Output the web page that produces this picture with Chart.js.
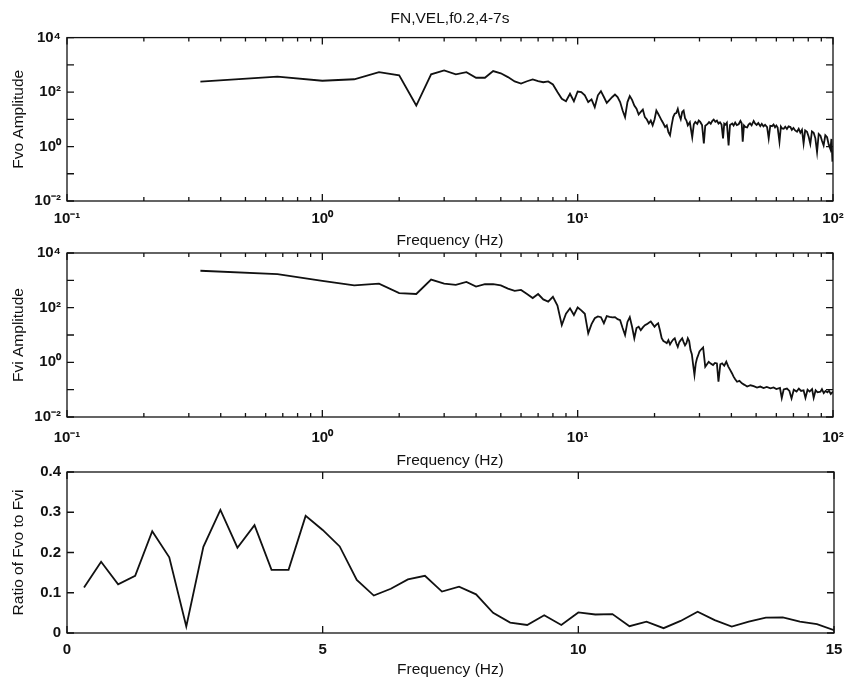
<!DOCTYPE html>
<html>
<head>
<meta charset="utf-8">
<script src="https://cdn.jsdelivr.net/npm/chart.js@4.4.1/dist/chart.umd.min.js"></script>
<style>
  body { margin: 0; background: #fff; }
  #wrap { position: relative; width: 847px; height: 680px; }
  #wrap canvas { position: absolute; left: 0; }
</style>
</head>
<body>
<div id="wrap">
  <canvas id="fvoChart" width="847" height="250" style="top:0px"></canvas>
  <canvas id="fviChart" width="847" height="240" style="top:230px"></canvas>
  <canvas id="ratioChart" width="847" height="230" style="top:450px"></canvas>
</div>
<script>
// outcrop spectrum (Fvo)
const fvoFreq = [0.333, 0.667, 1.0, 1.333, 1.667, 2.0, 2.333, 2.667, 3.0, 3.333, 3.667, 4.0, 4.333, 4.667,
  5.0, 5.333, 5.667, 6.0, 6.333, 6.667, 7.0, 7.333, 7.667, 8.0, 8.333, 8.667, 9.0, 9.333, 9.667,
  10.0, 10.333, 10.667, 11.0, 11.333, 11.667, 12.0, 12.333, 12.667, 13.0, 13.333, 13.667, 14.0, 14.333, 14.667,
  15.0, 15.333, 15.667, 16.0, 16.333, 16.667, 17.0, 17.333, 17.667, 18.0, 18.333, 18.667, 19.0, 19.333, 19.667,
  20.0, 20.333, 20.667, 21.0, 21.333, 21.667, 22.0, 22.333, 22.667, 23.0, 23.333, 23.667, 24.0, 24.333, 24.667,
  25.0, 25.333, 25.667, 26.0, 26.333, 26.667, 27.0, 27.5, 28.1, 28.5, 28.9, 29.4, 29.8, 30.2, 30.7, 31.2, 31.6,
  32.2, 32.7, 33.2, 33.7, 34.1, 34.6, 35.1, 35.6, 36.1, 36.6, 37.1, 37.5, 37.9, 38.4, 39.0, 39.5, 40.3, 40.8,
  41.4, 42.0, 42.7, 43.4, 43.9, 44.3, 44.8, 45.4, 46.1, 46.7, 47.3, 48.0, 48.9, 49.5, 50.2, 51.0, 51.9, 52.6,
  53.4, 54.2, 55.2, 56.0, 56.8, 57.7, 58.5, 59.3, 60.0, 60.7, 61.7, 62.5, 63.2, 64.1, 65.0, 66.0, 67.0, 68.1,
  69.0, 70.0, 71.1, 72.3, 73.4, 74.5, 75.6, 76.7, 77.8, 79.1, 80.3, 81.5, 82.7, 84.0, 85.3, 86.6, 87.9, 89.3,
  90.6, 91.9, 93.3, 94.8, 96.2, 97.7, 98.6, 99.5];
const fvoAmp = [240, 370, 260, 295, 540, 410, 32, 450, 620, 450, 540, 335, 335, 590,
  490, 355, 245, 205, 250, 290, 250, 230, 245, 190, 100, 57, 46, 87, 46,
  105, 100, 76, 43, 54, 28, 76, 108, 66, 40, 52, 66, 81, 66, 43,
  21, 12, 43, 71, 52, 32, 24.5, 15, 18.6, 22.6, 12, 9.8, 7, 9, 6,
  9.8, 21, 16, 12, 9, 7, 5.2, 6, 3.4, 2.6, 6, 12, 16, 17, 24,
  14, 10, 18.6, 21, 11, 9, 6, 7.8, 2.2, 6.5, 8, 6.8, 9, 8, 6.2, 1.3, 5.8,
  6.6, 7.9, 6.9, 8.8, 9.8, 8.1, 8.9, 7, 7.8, 6.4, 2, 6.9, 6.3, 7.5, 1.1, 6.2, 7, 5.9,
  7.6, 6.1, 6.6, 8.7, 7.2, 1.5, 6.0, 5.2, 5, 6.4, 7.1, 6.0, 8.7, 7.0, 6.2, 7.3, 5.6, 6.8,
  5.5, 6.3, 5.2, 2, 5.8, 5.6, 6.4, 5.1, 5.9, 5, 1.5, 5.4, 4.6, 4.5, 5.3, 4.4, 5.5, 5.2,
  4.1, 4.8, 3.9, 3.5, 4.5, 3.2, 4.1, 1.3, 3.9, 3.5, 2.3, 1.25, 3.6, 3.2, 2.0, 0.63, 2.9, 2.5,
  1.6, 1.1, 2.6, 2.2, 1.2, 0.8, 1.9, 0.28];

// input spectrum (Fvi)
const fviFreq = [0.333, 0.667, 1.0, 1.333, 1.667, 2.0, 2.333, 2.667, 3.0, 3.333, 3.667, 4.0, 4.333, 4.667,
  5.0, 5.333, 5.667, 6.0, 6.333, 6.667, 7.0, 7.333, 7.667, 8.0, 8.333, 8.667, 9.0, 9.333, 9.667,
  10.0, 10.333, 10.667, 11.0, 11.333, 11.667, 12.0, 12.333, 12.667, 13.0, 13.333, 13.667, 14.0, 14.333, 14.667,
  15.0, 15.333, 15.667, 16.0, 16.333, 16.667, 17.0, 17.333, 17.667, 18.0, 18.333, 18.667, 19.0, 19.333, 19.667,
  20.0, 20.333, 20.667, 21.0, 21.333, 21.667, 22.0, 22.333, 22.667, 23.0, 23.333, 23.667, 24.0, 24.333, 24.667,
  25.0, 25.333, 25.667, 26.0, 26.333, 26.667, 27.0, 27.333, 27.667, 28.0, 28.333, 28.667, 29.0, 29.333, 29.667,
  30.0, 30.5, 31.0, 31.6, 32.1, 32.6, 33.2, 33.9, 34.5, 35.1, 35.6, 36.2, 36.8, 37.5, 38.2, 38.9, 39.6, 40.2,
  40.8, 41.4, 42.1, 43.0, 44.0, 45.0, 46.1, 47.5, 48.9, 50.4, 51.9, 53.5, 55.0, 56.9, 58.5, 60.0, 62.0, 63.0,
  64.1, 66.0, 67.5, 68.8, 70.2, 72.0, 73.5, 75.0, 76.7, 78.0, 79.5, 81.0, 82.8, 84.0, 85.5, 87.0, 89.3, 90.5,
  92.0, 93.5, 95.0, 96.5, 98.0, 100];
const fviAmp = [2240, 1700, 950, 650, 760, 340, 316, 1070, 760, 680, 870, 590, 720, 720,
  650, 500, 410, 445, 316, 225, 316, 200, 166, 250, 120, 23, 60, 95, 54,
  102, 80, 60, 11.5, 25, 41, 48, 45, 27, 49, 46, 44, 45, 38, 35,
  18, 10, 30, 45, 20, 7.6, 18, 20, 15, 19, 23, 25, 28, 31, 25,
  20, 24, 27, 15, 7.6, 6, 5.5, 5, 6.5, 4.5, 5.7, 6.8, 7.6, 5, 3.7,
  5.5, 6.5, 7.6, 5.5, 4.2, 5, 7.6, 6, 2.8, 2.0, 0.8, 0.35, 0.9, 1.4, 1.86,
  2.5, 3.0, 3.5, 0.69, 0.85, 1.05, 0.9, 0.8, 0.95, 0.91, 0.195, 0.85, 0.91, 0.75, 1.05, 0.7, 0.52, 0.4,
  0.3, 0.24, 0.195, 0.21, 0.17, 0.15, 0.13, 0.145, 0.135, 0.12, 0.13, 0.115, 0.125, 0.112, 0.12, 0.105, 0.115, 0.05,
  0.102, 0.11, 0.09, 0.048, 0.1, 0.085, 0.11, 0.09, 0.095, 0.05, 0.1, 0.085, 0.105, 0.05, 0.095, 0.08, 0.085, 0.105,
  0.075, 0.09, 0.08, 0.09, 0.07, 0.085];

// spectral ratio Fvo / Fvi
const ratioFreq = [0.333, 0.667, 1, 1.333, 1.667, 2, 2.333, 2.667, 3, 3.333, 3.667, 4, 4.333, 4.667,
  5, 5.333, 5.667, 6, 6.333, 6.667, 7, 7.333, 7.667, 8, 8.333, 8.667, 9, 9.333, 9.667,
  10, 10.333, 10.667, 11, 11.333, 11.667, 12, 12.333, 12.667, 13, 13.333, 13.667, 14, 14.333, 14.667, 15];
const ratioVal = [0.113, 0.177, 0.121, 0.142, 0.253, 0.188, 0.016, 0.214, 0.306, 0.212, 0.268, 0.157, 0.157, 0.291,
  0.256, 0.215, 0.132, 0.093, 0.110, 0.133, 0.142, 0.103, 0.115, 0.096, 0.050, 0.026, 0.020, 0.044, 0.020,
  0.051, 0.046, 0.047, 0.017, 0.028, 0.012, 0.030, 0.053, 0.032, 0.016, 0.028, 0.038, 0.039, 0.028, 0.022, 0.007];

const freqDecades = [0.1, 1, 10, 100];
const ampDecades = [0.01, 0.1, 1, 10, 100, 1000, 10000];
const ratioXTicks = [0, 5, 10, 15];
const ratioYTicks = [0, 0.1, 0.2, 0.3, 0.4];

Chart.defaults.font.family = '"Liberation Sans", Arial, Helvetica, sans-serif';
Chart.defaults.color = '#111';

const tickFont = { size: 15, weight: 'bold' };
const titleFont = { size: 15.5, weight: 'normal' };
const ink = '#111';

const SUP = { '-': '\u207B', '0': '\u2070', '1': '\u00B9', '2': '\u00B2', '3': '\u00B3', '4': '\u2074' };
const pow10Label = e => '10' + String(e).split('').map(c => SUP[c]).join('');

// minor log ticks 2..9 inside every decade
const minorTicks = [];
freqDecades.slice(0, -1).forEach(d => { for (let m = 2; m < 10; m++) minorTicks.push(d * m); });

// keep the plot box where the layout puts it, labels may hang over the edges
const fixX = h => s => { s.height = h; s.paddingLeft = 0; s.paddingRight = 0; };
const fixY = s => { s.width = 67; s.paddingTop = 0; s.paddingBottom = 0; };

// box around the axes with inward tick marks on all four sides
const frameTicks = {
  id: 'frameTicks',
  afterDraw(chart, args, opts) {
    const { ctx, chartArea: a } = chart;
    const x = chart.scales.x, y = chart.scales.y;
    ctx.save();
    ctx.strokeStyle = ink;
    ctx.lineWidth = 1.3;
    ctx.beginPath();
    const vTick = (v, len) => {
      const px = x.getPixelForValue(v);
      ctx.moveTo(px, a.bottom); ctx.lineTo(px, a.bottom - len);
      ctx.moveTo(px, a.top); ctx.lineTo(px, a.top + len);
    };
    const hTick = (v, len) => {
      const py = y.getPixelForValue(v);
      ctx.moveTo(a.left, py); ctx.lineTo(a.left + len, py);
      ctx.moveTo(a.right, py); ctx.lineTo(a.right - len, py);
    };
    opts.xMajor.forEach(v => vTick(v, 7));
    (opts.xMinor || []).forEach(v => vTick(v, 4));
    opts.yMajor.forEach(v => hTick(v, 7));
    ctx.stroke();
    ctx.strokeRect(a.left, a.top, a.right - a.left, a.bottom - a.top);
    ctx.restore();
  }
};

function lineData(xs, ys) {
  return {
    datasets: [{
      data: xs.map((f, i) => ({ x: f, y: ys[i] })),
      borderColor: ink,
      borderWidth: 1.8,
      pointRadius: 0,
      tension: 0,
      fill: false
    }]
  };
}

function spectrumChart(id, freq, amp, o) {
  return new Chart(document.getElementById(id), {
    type: 'line',
    data: lineData(freq, amp),
    options: {
      responsive: false,
      animation: false,
      layout: { padding: { top: o.top, right: 14, bottom: 0, left: 0 } },
      plugins: {
        legend: { display: false },
        tooltip: { enabled: false },
        title: o.title ? {
          display: true, text: o.title, font: titleFont, color: ink,
          fullSize: false, padding: { top: 9.5, bottom: 9.5 }
        } : { display: false },
        frameTicks: { xMajor: freqDecades, xMinor: minorTicks, yMajor: ampDecades }
      },
      scales: {
        x: {
          type: 'logarithmic', min: 0.1, max: 100,
          grid: { display: false, drawTicks: false }, border: { display: false },
          afterBuildTicks: s => { s.ticks = freqDecades.map(v => ({ value: v })); },
          afterFit: fixX(o.xHeight),
          ticks: {
            padding: o.xPad, font: tickFont, color: ink, maxRotation: 0, autoSkip: false,
            callback: v => pow10Label(Math.round(Math.log10(v)))
          },
          title: { display: true, text: 'Frequency (Hz)', font: titleFont, color: ink, padding: { top: 0, bottom: 0 } }
        },
        y: {
          type: 'logarithmic', min: 0.01, max: 10000,
          grid: { display: false, drawTicks: false }, border: { display: false },
          afterBuildTicks: s => { s.ticks = ampDecades.map(v => ({ value: v })); },
          afterFit: fixY,
          ticks: {
            padding: 6, font: tickFont, color: ink, autoSkip: false,
            callback: v => {
              const e = Math.round(Math.log10(v));
              return e % 2 === 0 ? pow10Label(e) : '';
            }
          },
          title: { display: true, text: o.yTitle, font: titleFont, color: ink, padding: { top: 9, bottom: 0 } }
        }
      }
    },
    plugins: [frameTicks]
  });
}

spectrumChart('fvoChart', fvoFreq, fvoAmp, {
  title: 'FN,VEL,f0.2,4-7s', yTitle: 'Fvo Amplitude', top: 0, xHeight: 49, xPad: 9
});
spectrumChart('fviChart', fviFreq, fviAmp, {
  yTitle: 'Fvi Amplitude', top: 23, xHeight: 53, xPad: 12
});

new Chart(document.getElementById('ratioChart'), {
  type: 'line',
  data: lineData(ratioFreq, ratioVal),
  options: {
    responsive: false,
    animation: false,
    layout: { padding: { top: 22, right: 13, bottom: 0, left: 0 } },
    plugins: {
      legend: { display: false },
      tooltip: { enabled: false },
      frameTicks: { xMajor: ratioXTicks, yMajor: ratioYTicks }
    },
    scales: {
      x: {
        type: 'linear', min: 0, max: 15,
        grid: { display: false, drawTicks: false }, border: { display: false },
        afterBuildTicks: s => { s.ticks = ratioXTicks.map(v => ({ value: v })); },
        afterFit: fixX(47),
        ticks: { padding: 8, font: tickFont, color: ink, maxRotation: 0, callback: v => String(v) },
        title: { display: true, text: 'Frequency (Hz)', font: titleFont, color: ink, padding: { top: 0, bottom: 1 } }
      },
      y: {
        type: 'linear', min: 0, max: 0.4,
        grid: { display: false, drawTicks: false }, border: { display: false },
        afterBuildTicks: s => { s.ticks = ratioYTicks.map(v => ({ value: v })); },
        afterFit: fixY,
        ticks: { padding: 6, font: tickFont, color: ink, callback: v => String(+v.toFixed(1)) },
        title: { display: true, text: 'Ratio of Fvo to Fvi', font: titleFont, color: ink, padding: { top: 9, bottom: 0 } }
      }
    }
  },
  plugins: [frameTicks]
});
</script>
</body>
</html>
